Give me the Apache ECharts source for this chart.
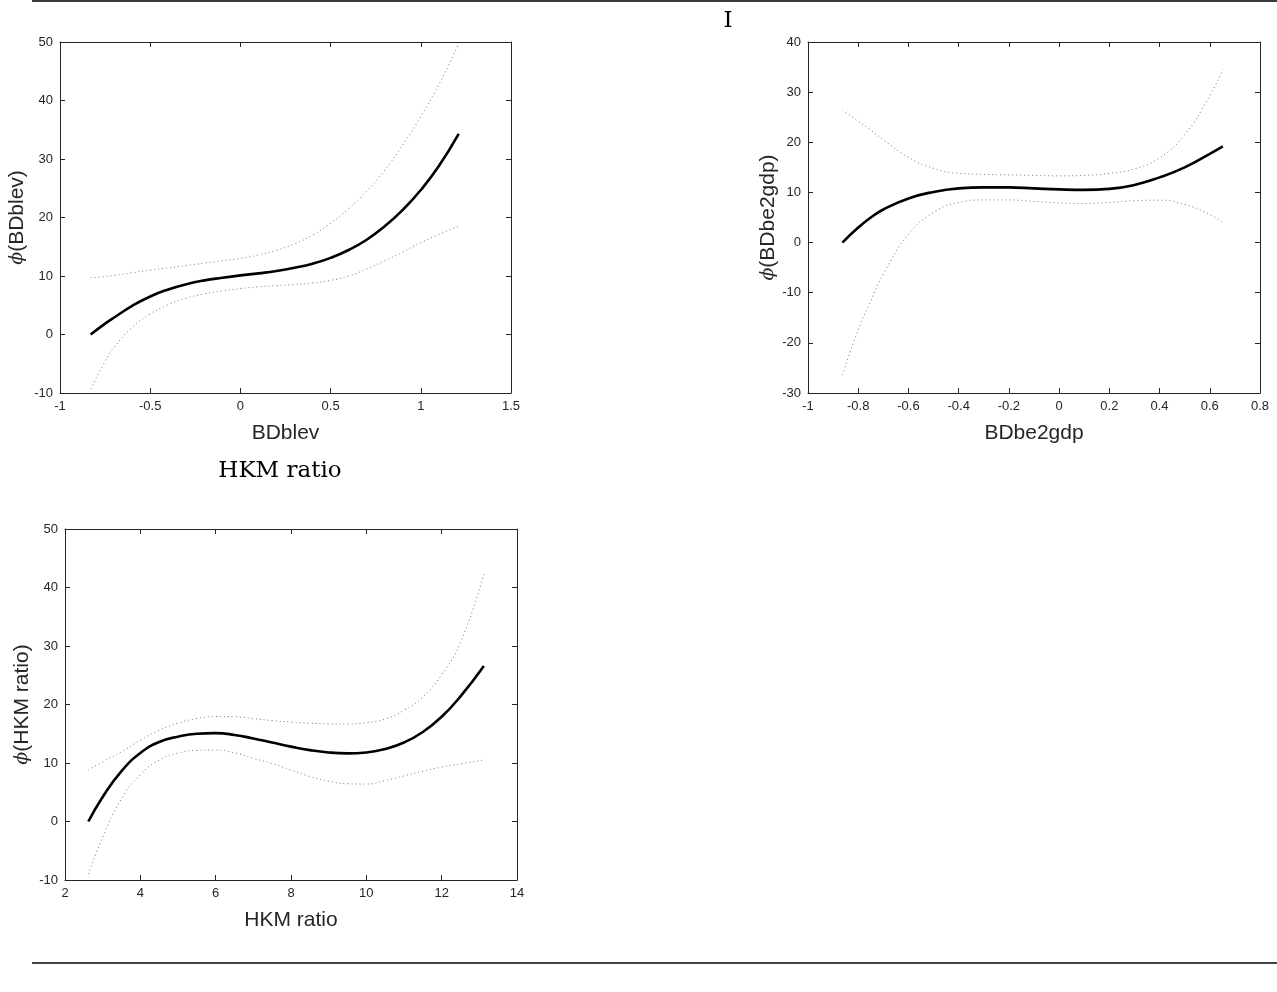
<!DOCTYPE html>
<html>
<head>
<meta charset="utf-8">
<script src="https://cdn.jsdelivr.net/npm/echarts@6/dist/echarts.min.js"></script>
<style>
  html, body { margin: 0; padding: 0; background: #fff; }
  #chart { width: 1277px; height: 992px; }
</style>
</head>
<body>
<div id="chart"></div>
<script>
// ---- Panel 1: BDblev ----
const xBDblev   = [-0.83, -0.75, -0.7, -0.6, -0.5, -0.4, -0.3, -0.2, -0.1, 0, 0.1, 0.2, 0.3, 0.4, 0.5, 0.6, 0.7, 0.8, 0.9, 1.0, 1.1, 1.21];
const fitBDblev = [0, 1.85, 2.9, 4.9, 6.5, 7.7, 8.6, 9.25, 9.7, 10.1, 10.45, 10.85, 11.4, 12.1, 13.1, 14.45, 16.2, 18.5, 21.3, 24.7, 28.8, 34.3];
const upBDblev  = [9.7, 9.9, 10.1, 10.55, 11.0, 11.4, 11.8, 12.2, 12.6, 13.0, 13.6, 14.4, 15.5, 17.0, 19.0, 21.5, 24.5, 28.1, 32.4, 37.3, 42.7, 49.7];
const loBDblev  = [-9.3, -4.6, -2.2, 1.2, 3.5, 5.1, 6.2, 6.95, 7.45, 7.85, 8.15, 8.35, 8.55, 8.8, 9.25, 10.0, 11.2, 12.6, 14.1, 15.7, 17.1, 18.5];

// ---- Panel 2: BDbe2gdp ----
const xBDbe2gdp   = [-0.863, -0.8, -0.75, -0.7, -0.6, -0.5, -0.4, -0.3, -0.2, -0.1, 0, 0.1, 0.2, 0.3, 0.4, 0.5, 0.6, 0.652];
const fitBDbe2gdp = [0, 3.0, 5.0, 6.6, 8.8, 10.1, 10.8, 11.0, 11.0, 10.8, 10.6, 10.5, 10.7, 11.5, 13.0, 15.0, 17.7, 19.2];
const upBDbe2gdp  = [26.4, 24.2, 22.4, 20.5, 17.0, 14.8, 13.8, 13.6, 13.5, 13.4, 13.3, 13.4, 13.8, 14.7, 16.9, 21.5, 29.3, 34.5];
const loBDbe2gdp  = [-26.4, -17.4, -11.6, -6.3, 1.6, 6.0, 8.0, 8.5, 8.5, 8.2, 7.9, 7.8, 8.0, 8.35, 8.45, 7.6, 5.6, 4.0];

// ---- Panel 3: HKM ratio ----
const xHKM   = [2.62, 3.0, 3.5, 4.0, 4.5, 5.0, 5.5, 6.0, 6.5, 7.0, 7.5, 8.0, 8.5, 9.0, 9.5, 10.0, 10.5, 11.0, 11.5, 12.0, 12.5, 13.12];
const fitHKM = [0, 4.2, 8.6, 11.7, 13.6, 14.5, 15.0, 15.1, 14.8, 14.2, 13.5, 12.8, 12.2, 11.8, 11.65, 11.8, 12.4, 13.5, 15.3, 17.9, 21.4, 26.6];
const upHKM  = [8.8, 10.2, 11.9, 13.9, 15.6, 16.8, 17.6, 17.95, 17.9, 17.6, 17.25, 17.0, 16.8, 16.7, 16.65, 16.9, 17.5, 19.0, 21.3, 25.1, 30.6, 42.3];
const loHKM  = [-9.0, -2.7, 3.9, 8.0, 10.5, 11.7, 12.15, 12.2, 11.75, 10.8, 9.9, 8.8, 7.7, 6.9, 6.45, 6.4, 7.0, 7.8, 8.6, 9.3, 9.85, 10.5];

// axis ranges [min, max, interval]
const xRangeBDblev   = [-1, 1.5, 0.5];
const yRangeBDblev   = [-10, 50, 10];
const xRangeBDbe2gdp = [-1, 0.8, 0.2];
const yRangeBDbe2gdp = [-30, 40, 10];
const xRangeHKM      = [2, 14, 2];
const yRangeHKM      = [-10, 50, 10];

const panelTitles = ['I', 'HKM ratio'];

const SANS = '"Liberation Sans", Arial, Helvetica, sans-serif';
const SERIF = '"DejaVu Serif", serif';
const AX = '#262626';

function axis(gridIndex, r, position, show, name, nameGap, phiName) {
  const a = {
    type: 'value', gridIndex, min: r[0], max: r[1], interval: r[2], position,
    axisLine: { show: true, onZero: false, lineStyle: { color: AX, width: 1 } },
    axisTick: { show: true, inside: true, length: 5, lineStyle: { color: AX, width: 1 } },
    axisLabel: { show: show, color: AX, fontSize: 13, fontFamily: SANS, margin: 7 },
    splitLine: { show: false }
  };
  if (name) {
    a.name = phiName ? '{p|ϕ}' + '(' + name + ')' : name;
    a.nameLocation = 'middle';
    a.nameGap = nameGap;
    a.nameTextStyle = {
      color: AX, fontSize: 21, fontFamily: SANS,
      rich: { p: { fontFamily: SERIF, fontStyle: 'italic', fontSize: 19, color: AX } }
    };
  }
  return a;
}

const grids = [
  { left: 60, top: 42, width: 451, height: 351 },
  { left: 808, top: 42, width: 452, height: 351 },
  { left: 65, top: 529, width: 452, height: 351 }
];

const xAxes = [
  axis(0, xRangeBDblev, 'bottom', true, 'BDblev', 30),
  axis(0, xRangeBDblev, 'top', false),
  axis(1, xRangeBDbe2gdp, 'bottom', true, 'BDbe2gdp', 30),
  axis(1, xRangeBDbe2gdp, 'top', false),
  axis(2, xRangeHKM, 'bottom', true, 'HKM ratio', 30),
  axis(2, xRangeHKM, 'top', false)
];
const yAxes = [
  axis(0, yRangeBDblev, 'left', true, 'BDblev', 32, true),
  axis(0, yRangeBDblev, 'right', false),
  axis(1, yRangeBDbe2gdp, 'left', true, 'BDbe2gdp', 26, true),
  axis(1, yRangeBDbe2gdp, 'right', false),
  axis(2, yRangeHKM, 'left', true, 'HKM ratio', 32, true),
  axis(2, yRangeHKM, 'right', false)
];

function pts(xs, ys) { return xs.map((v, i) => [v, ys[i]]); }

function panelSeries(idx, xs, fit, up, lo) {
  const base = { type: 'line', xAxisIndex: idx * 2, yAxisIndex: idx * 2, showSymbol: false, symbol: 'none', smooth: 0.5, silent: true, animation: false };
  const dotted = { color: '#777', width: 1, type: [1, 3] };
  return [
    Object.assign({}, base, { data: pts(xs, up), lineStyle: dotted, z: 2 }),
    Object.assign({}, base, { data: pts(xs, lo), lineStyle: dotted, z: 2 }),
    Object.assign({}, base, { data: pts(xs, fit), lineStyle: { color: '#000', width: 2.6 }, z: 3 })
  ];
}

const series = [].concat(
  panelSeries(0, xBDblev, fitBDblev, upBDblev, loBDblev),
  panelSeries(1, xBDbe2gdp, fitBDbe2gdp, upBDbe2gdp, loBDbe2gdp),
  panelSeries(2, xHKM, fitHKM, upHKM, loHKM)
);

const chart = echarts.init(document.getElementById('chart'), null, { renderer: 'canvas' });
chart.setOption({
  backgroundColor: '#fff',
  animation: false,
  grid: grids,
  xAxis: xAxes,
  yAxis: yAxes,
  series: series,
  graphic: [
    { type: 'rect', shape: { x: 32, y: 0, width: 1245, height: 2 }, style: { fill: '#3a3a3a' } },
    { type: 'rect', shape: { x: 32, y: 962, width: 1245, height: 2 }, style: { fill: '#444' } },
    { type: 'text', x: 728, y: 21, style: { text: panelTitles[0], font: '23px "DejaVu Serif", serif', fill: '#000', textAlign: 'center', textVerticalAlign: 'middle' } },
    { type: 'text', x: 280, y: 471, style: { text: panelTitles[1], font: '23px "DejaVu Serif", serif', fill: '#000', textAlign: 'center', textVerticalAlign: 'middle' } }
  ]
});
</script>
</body>
</html>
